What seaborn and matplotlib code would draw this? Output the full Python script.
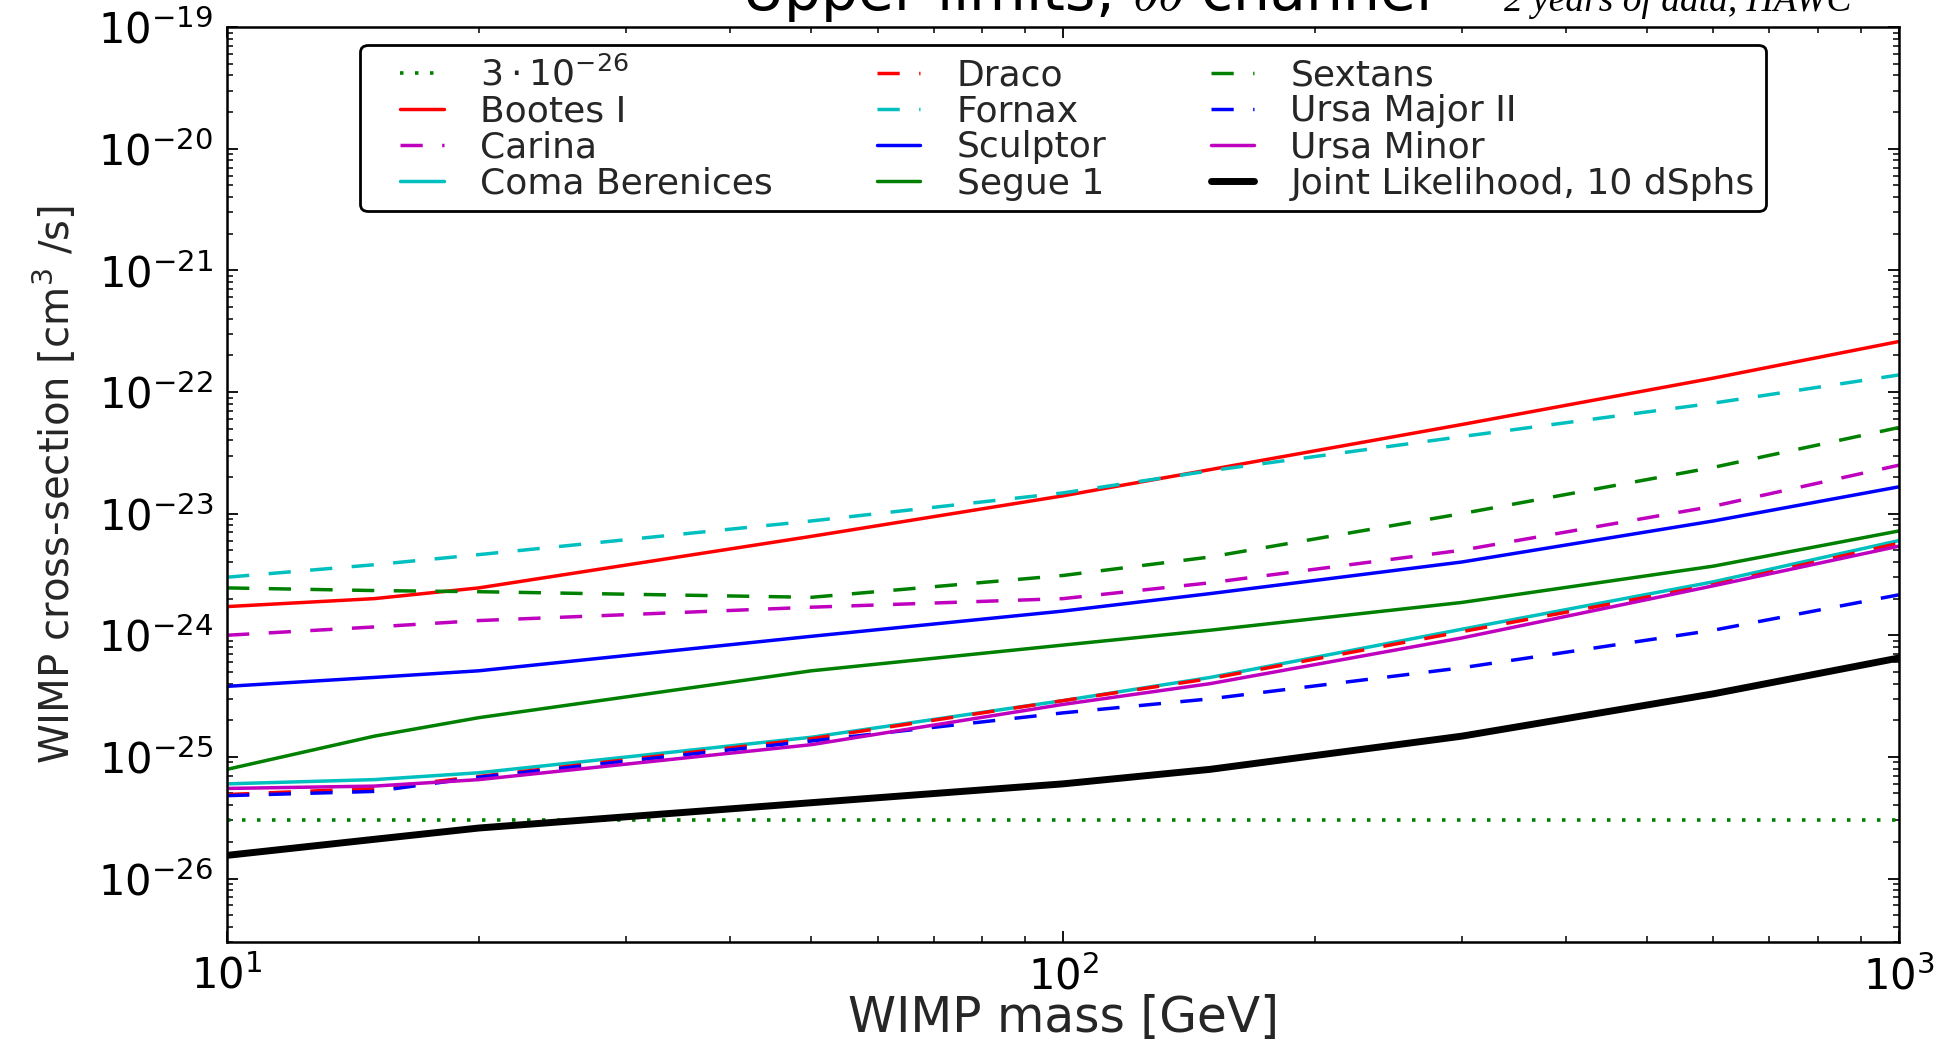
import numpy as np
import pandas as pd
import matplotlib
matplotlib.use("Agg")
import matplotlib.pyplot as plt
from matplotlib.lines import Line2D
from matplotlib.legend_handler import HandlerLine2D
import seaborn as sns

mass = [10, 15, 20, 50, 100, 150, 300, 600, 1000]

# upper limits on <sigma v> [cm^3/s], bb channel
ref_xsec = [3e-26] * len(mass)
bootes = [1.72e-24, 2.0e-24, 2.45e-24, 6.5e-24, 1.4e-23, 2.3e-23, 5.4e-23, 1.3e-22, 2.6e-22]
carina = [1.0e-24, 1.17e-24, 1.32e-24, 1.7e-24, 2.0e-24, 2.7e-24, 5.0e-24, 1.15e-23, 2.5e-23]
coma = [6.0e-26, 6.5e-26, 7.4e-26, 1.45e-25, 2.9e-25, 4.5e-25, 1.12e-24, 2.75e-24, 6.0e-24]
draco = [4.9e-26, 5.5e-26, 6.9e-26, 1.41e-25, 2.9e-25, 4.4e-25, 1.07e-24, 2.6e-24, 5.7e-24]
fornax = [3.0e-24, 3.8e-24, 4.6e-24, 8.7e-24, 1.48e-23, 2.25e-23, 4.3e-23, 8.1e-23, 1.38e-22]
sculptor = [3.8e-25, 4.5e-25, 5.1e-25, 9.8e-25, 1.58e-24, 2.2e-24, 4.0e-24, 8.7e-24, 1.66e-23]
segue = [7.9e-26, 1.48e-25, 2.1e-25, 5.1e-25, 8.3e-25, 1.1e-24, 1.86e-24, 3.7e-24, 7.2e-24]
sextans = [2.45e-24, 2.33e-24, 2.28e-24, 2.05e-24, 3.1e-24, 4.4e-24, 1.0e-23, 2.4e-23, 5.1e-23]
uma2 = [4.8e-26, 5.2e-26, 6.8e-26, 1.35e-25, 2.3e-25, 3.0e-25, 5.4e-25, 1.1e-24, 2.15e-24]
umi = [5.5e-26, 5.75e-26, 6.5e-26, 1.26e-25, 2.7e-25, 4.0e-25, 9.5e-25, 2.55e-24, 5.4e-24]
joint = [1.55e-26, 2.1e-26, 2.6e-26, 4.2e-26, 6.0e-26, 7.9e-26, 1.48e-25, 3.3e-25, 6.5e-25]

sns.set_theme(style="ticks")
plt.rcParams["font.family"] = ["DejaVu Sans"]
plt.rcParams["mathtext.fontset"] = "dejavusans"
plt.rcParams["lines.scale_dashes"] = False
plt.rcParams["xtick.direction"] = "in"
plt.rcParams["ytick.direction"] = "in"

DASH = (0, (16, 14))
DOT = (0, (2.5, 8.3))
# (label, values, colour, linestyle, linewidth)
series = [
    (r"$3\cdot10^{-26}$", ref_xsec, (0, 0.5, 0), DOT, 2.6),
    ("Bootes I", bootes, "red", "-", 2.5),
    ("Carina", carina, (0.75, 0, 0.75), DASH, 2.5),
    ("Coma Berenices", coma, (0, 0.75, 0.75), "-", 2.5),
    ("Draco", draco, "red", DASH, 2.5),
    ("Fornax", fornax, (0, 0.75, 0.75), DASH, 2.5),
    ("Sculptor", sculptor, "blue", "-", 2.5),
    ("Segue 1", segue, (0, 0.5, 0), "-", 2.5),
    ("Sextans", sextans, (0, 0.5, 0), DASH, 2.5),
    ("Ursa Major II", uma2, "blue", DASH, 2.5),
    ("Ursa Minor", umi, (0.75, 0, 0.75), "-", 2.5),
    ("Joint Likelihood, 10 dSphs", joint, "black", "-", 5.0),
]

fig = plt.figure(figsize=(19.46, 10.41), dpi=100)
ax = fig.add_axes([0.1167, 0.095, 0.8591, 0.879])

for label, vals, col, ls, lw in series:
    sns.lineplot(x=mass, y=vals, ax=ax, color=col, linestyle=ls, lw=lw, label=label)

ax.set_xscale("log")
ax.set_yscale("log")
ax.set_xlim(10, 1000)
ax.set_ylim(3e-27, 1e-19)
ax.set_yticks([10.0 ** e for e in range(-26, -18)])

for s in ax.spines.values():
    s.set_linewidth(1.8)
    s.set_color("black")
ax.tick_params(which="both", top=True, right=True, colors="black")
ax.tick_params(which="major", length=8, width=1.3, labelsize=30, pad=10)
ax.tick_params(which="minor", length=4.5, width=1.1)

ax.set_xlabel("WIMP mass [GeV]", fontsize=35, labelpad=-3)
ax.set_ylabel(r"WIMP cross-section [cm$^3$ /s]", fontsize=29, labelpad=14)

# short handles indented from the frame edge
leg = ax.legend(loc="upper center", ncol=3, fontsize=26, handlelength=2.0,
                handletextpad=1.0, columnspacing=2.1, labelspacing=0.06,
                borderpad=0.3, fancybox=True, framealpha=1,
                handler_map={Line2D: HandlerLine2D(xpad=0.8)})
leg.get_frame().set_edgecolor("black")
leg.get_frame().set_linewidth(2.0)

# title sits partly above the canvas, as in the original
fig.text(0.381, 0.9895, r"Upper limits, $b\bar{b}$ channel", fontsize=42,
         math_fontfamily="cm", ha="left", va="baseline", color="black")
fig.text(0.773, 0.9895, "2 years of data, HAWC", fontsize=27,
         family=["Liberation Serif", "DejaVu Serif"],
         style="italic", ha="left", va="baseline", color="black")

fig.savefig("out.png", dpi=100)
